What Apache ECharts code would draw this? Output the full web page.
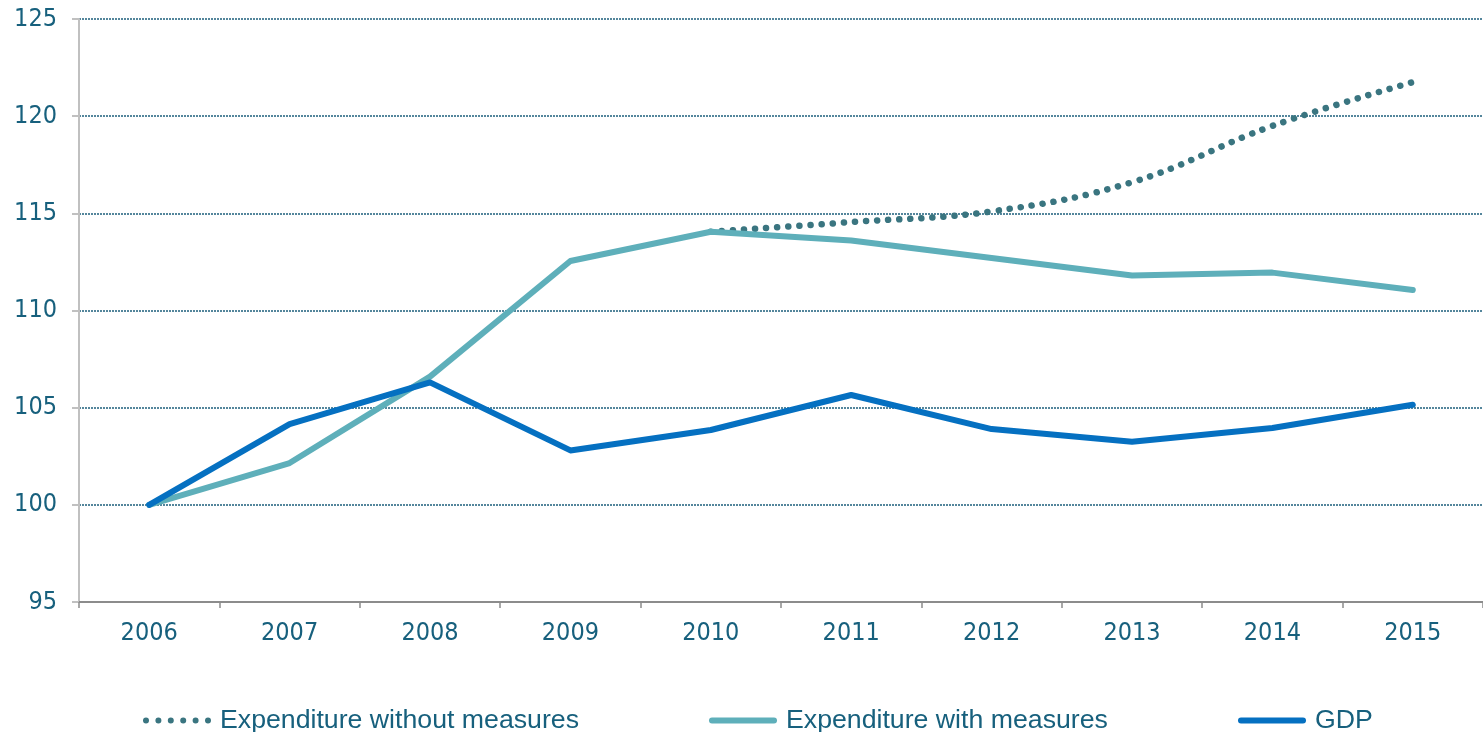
<!DOCTYPE html>
<html>
<head>
<meta charset="utf-8">
<style>
  html, body { margin: 0; padding: 0; background: #ffffff; }
  #chart { width: 1483px; height: 732px; }
</style>
<script src="https://cdn.jsdelivr.net/npm/echarts@6/dist/echarts.min.js"></script>
</head>
<body>
<div id="chart"></div>
<script>
// Index, 2006 = 100
const years = ['2006', '2007', '2008', '2009', '2010', '2011', '2012', '2013', '2014', '2015'];
const expenditureWithoutMeasures = [null, null, null, null, 114.05, 114.55, 115.1, 116.6, 119.5, 121.75];
const expenditureWithMeasures = [100, 102.15, 106.6, 112.55, 114.05, 113.6, 112.7, 111.8, 111.95, 111.05];
const gdp = [100, 104.15, 106.3, 102.8, 103.85, 105.65, 103.9, 103.25, 103.95, 105.15];

const labelColor = '#17607d';
const axisFont = '"DejaVu Sans Condensed", "DejaVu Sans", Verdana, sans-serif';
const legendFont = '"Liberation Sans", Arial, sans-serif';

// legend glyphs: a row of dots and a rounded bar
const dotsIcon = 'path://' + [0, 1, 2, 3, 4, 5].map(function (i) {
  const cx = 3 + i * 12.4;
  return 'M' + (cx - 3) + ',3a3,3 0 1,0 6,0a3,3 0 1,0 -6,0Z';
}).join('');
const barIcon = 'path://M3,0L65,0A3,3 0 0,1 65,6L3,6A3,3 0 0,1 3,0Z';

function legendAt(name, left, icon) {
  return {
    left: left,
    top: 707,
    itemWidth: 68,
    itemHeight: 6,
    itemGap: 0,
    padding: 0,
    textStyle: { fontFamily: legendFont, fontSize: 26.7, color: labelColor, padding: [0, 0, 0, 4] },
    data: [{ name: name, icon: icon }]
  };
}

const chart = echarts.init(document.getElementById('chart'));
chart.setOption({
  animation: false,
  backgroundColor: '#ffffff',
  grid: { left: 79, top: 19, right: -11, bottom: 130, containLabel: false },
  legend: [
    legendAt('Expenditure without measures', 143, dotsIcon),
    legendAt('Expenditure with measures', 709, barIcon),
    legendAt('GDP', 1238, barIcon)
  ],
  xAxis: {
    type: 'category',
    data: years,
    boundaryGap: true,
    axisLine: { lineStyle: { color: '#8c8c8c', width: 2 } },
    axisTick: { show: true, length: 6, lineStyle: { color: '#8c8c8c', width: 1.5 } },
    axisLabel: { margin: 19, fontFamily: axisFont, fontSize: 25, color: labelColor },
    splitLine: { show: false }
  },
  yAxis: {
    type: 'value',
    min: 95,
    max: 125,
    interval: 5,
    axisLine: { show: true, lineStyle: { color: '#c0c0c0', width: 2 } },
    axisTick: { show: true, length: 7, lineStyle: { color: '#c0c0c0', width: 2 } },
    axisLabel: { margin: 22, fontFamily: axisFont, fontSize: 25, color: labelColor },
    splitLine: { show: true, lineStyle: { color: '#1d5f7c', width: 1.5, type: [2, 1] } }
  },
  series: [
    {
      name: 'Expenditure without measures',
      type: 'line',
      data: expenditureWithoutMeasures,
      smooth: 0.4,
      symbol: 'none',
      lineStyle: { color: '#3a7580', width: 6.5, type: [0.1, 11], cap: 'round' },
      itemStyle: { color: '#3a7580' },
      z: 3
    },
    {
      name: 'Expenditure with measures',
      type: 'line',
      data: expenditureWithMeasures,
      symbol: 'none',
      lineStyle: { color: '#5eafba', width: 6, cap: 'round', join: 'round' },
      itemStyle: { color: '#5eafba' },
      z: 4
    },
    {
      name: 'GDP',
      type: 'line',
      data: gdp,
      symbol: 'none',
      lineStyle: { color: '#0570c1', width: 6, cap: 'round', join: 'round' },
      itemStyle: { color: '#0570c1' },
      z: 5
    }
  ]
});
</script>
</body>
</html>
